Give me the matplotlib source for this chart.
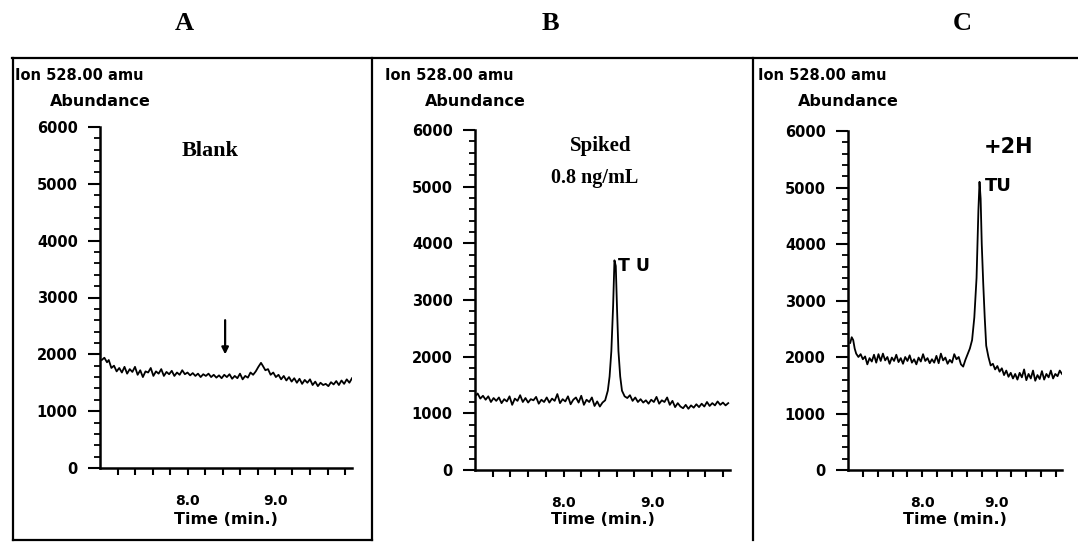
import matplotlib
matplotlib.use("Agg")
import matplotlib.pyplot as plt
from matplotlib.lines import Line2D

# ---- data ----
panel_letters = ["A", "B", "C"]
ion_label = "Ion 528.00 amu"
y_label = "Abundance"
x_label = "Time (min.)"
y_ticks = [0, 1000, 2000, 3000, 4000, 5000, 6000]
x_major = [8.0, 9.0]
x_major_labels = ["8.0", "9.0"]
x_minor = [7.2, 7.4, 7.6, 7.8, 8.0, 8.2, 8.4, 8.6, 8.8, 9.0, 9.2, 9.4, 9.6, 9.8]

# Panel A: blank
time_a = [7.02, 7.05, 7.08, 7.10, 7.13, 7.16, 7.19, 7.22, 7.25, 7.28, 7.31, 7.34,
          7.37, 7.40, 7.43, 7.46, 7.49, 7.52, 7.55, 7.58, 7.61, 7.64, 7.67, 7.70,
          7.73, 7.76, 7.79, 7.82, 7.85, 7.88, 7.91, 7.94, 7.97, 8.00, 8.03, 8.06,
          8.09, 8.12, 8.15, 8.18, 8.21, 8.24, 8.27, 8.30, 8.33, 8.36, 8.39, 8.42,
          8.45, 8.48, 8.51, 8.54, 8.57, 8.60, 8.63, 8.66, 8.69, 8.72, 8.75, 8.78,
          8.81, 8.84, 8.86, 8.89, 8.92, 8.95, 8.98, 9.01, 9.04, 9.07, 9.10, 9.13,
          9.16, 9.19, 9.22, 9.25, 9.28, 9.31, 9.34, 9.37, 9.40, 9.43, 9.46, 9.49,
          9.52, 9.55, 9.58, 9.61, 9.64, 9.67, 9.70, 9.73, 9.76, 9.79, 9.82, 9.85, 9.88]
abund_a = [1900, 1940, 1860, 1900, 1760, 1800, 1700, 1760, 1680, 1780, 1660, 1740,
           1690, 1780, 1640, 1720, 1600, 1700, 1680, 1760, 1620, 1700, 1660, 1740,
           1620, 1690, 1650, 1710, 1620, 1680, 1640, 1720, 1650, 1680, 1630, 1670,
           1620, 1660, 1600, 1650, 1620, 1660, 1600, 1640, 1590, 1630, 1580, 1640,
           1600, 1650, 1570, 1620, 1580, 1660, 1560, 1620, 1590, 1680, 1640, 1700,
           1780, 1850, 1800, 1720, 1740, 1640, 1680, 1600, 1640, 1560, 1620, 1540,
           1600, 1520, 1580, 1500, 1570, 1480, 1550, 1500, 1560, 1460, 1520, 1440,
           1500, 1460, 1480, 1440, 1510, 1470, 1530, 1460, 1540, 1480, 1560, 1500, 1580]

# Panel B: spiked 0.8 ng/mL
time_b = [7.00, 7.03, 7.06, 7.09, 7.12, 7.15, 7.18, 7.21, 7.24, 7.27, 7.30, 7.33,
          7.36, 7.39, 7.42, 7.45, 7.48, 7.51, 7.54, 7.57, 7.60, 7.63, 7.66, 7.69,
          7.72, 7.75, 7.78, 7.81, 7.84, 7.87, 7.90, 7.93, 7.96, 7.99, 8.02, 8.05,
          8.08, 8.11, 8.14, 8.17, 8.20, 8.23, 8.26, 8.29, 8.32, 8.35, 8.38, 8.41,
          8.44, 8.47, 8.50, 8.52, 8.54, 8.56, 8.575, 8.59, 8.605, 8.62, 8.64, 8.66,
          8.69, 8.72, 8.75, 8.78, 8.81, 8.84, 8.87, 8.90, 8.93, 8.96, 8.99, 9.02,
          9.05, 9.08, 9.11, 9.14, 9.17, 9.20, 9.23, 9.26, 9.29, 9.32, 9.35, 9.38,
          9.41, 9.44, 9.47, 9.50, 9.53, 9.56, 9.59, 9.62, 9.65, 9.68, 9.71, 9.74,
          9.77, 9.80, 9.83, 9.86]
abund_b = [1300, 1350, 1260, 1310, 1240, 1300, 1200, 1270, 1220, 1280, 1180, 1250,
           1210, 1300, 1150, 1260, 1220, 1320, 1200, 1270, 1190, 1250, 1230, 1290,
           1170, 1240, 1200, 1280, 1190, 1260, 1220, 1340, 1180, 1250, 1210, 1300,
           1160, 1240, 1280, 1190, 1310, 1150, 1240, 1200, 1280, 1130, 1210, 1120,
           1190, 1230, 1400, 1650, 2100, 2900, 3700, 3600, 2800, 2100, 1650, 1400,
           1300, 1270, 1320, 1220, 1280, 1200, 1250, 1190, 1230, 1170, 1240, 1200,
           1290, 1170, 1230, 1200, 1280, 1150, 1220, 1110, 1180, 1120, 1090, 1150,
           1080, 1140, 1100, 1160, 1110, 1170, 1120, 1200, 1130, 1180, 1140, 1210,
           1150, 1190, 1140, 1180]

# Panel C: +2H
time_c = [7.03, 7.05, 7.07, 7.09, 7.11, 7.14, 7.17, 7.20, 7.23, 7.26, 7.29, 7.32,
          7.35, 7.38, 7.41, 7.44, 7.47, 7.50, 7.53, 7.56, 7.59, 7.62, 7.65, 7.68,
          7.71, 7.74, 7.77, 7.80, 7.83, 7.86, 7.89, 7.92, 7.95, 7.98, 8.01, 8.04,
          8.07, 8.10, 8.13, 8.16, 8.19, 8.22, 8.25, 8.28, 8.31, 8.34, 8.37, 8.40,
          8.43, 8.46, 8.49, 8.52, 8.55, 8.58, 8.61, 8.64, 8.67, 8.70, 8.73, 8.755,
          8.77, 8.785, 8.80, 8.82, 8.84, 8.86, 8.89, 8.92, 8.95, 8.98, 9.01, 9.04,
          9.07, 9.10, 9.13, 9.16, 9.19, 9.22, 9.25, 9.28, 9.31, 9.34, 9.37, 9.40,
          9.43, 9.46, 9.49, 9.52, 9.55, 9.58, 9.61, 9.64, 9.67, 9.70, 9.73, 9.76,
          9.79, 9.82, 9.85, 9.88]
abund_c = [2250, 2350, 2300, 2150, 2060, 2000, 2050, 1960, 2010, 1870, 1980, 1920,
           2040, 1900, 2050, 1930, 2060, 1940, 2000, 1880, 1990, 1930, 2040, 1910,
           1980, 1880, 2000, 1930, 2030, 1900, 1960, 1870, 1990, 1920, 2050, 1930,
           1980, 1890, 1960, 1900, 2020, 1890, 2060, 1940, 1990, 1880, 1950, 1900,
           2050, 1960, 2000, 1870, 1830, 1950, 2050, 2150, 2300, 2700, 3400, 4600,
           5100, 4800, 4000, 3300, 2700, 2200, 2000, 1850, 1880, 1780, 1840, 1740,
           1800, 1680, 1760, 1650, 1720, 1620, 1700, 1600, 1720, 1640, 1780, 1590,
           1700, 1620, 1760, 1580, 1680, 1610, 1750, 1600, 1700, 1640, 1760, 1620,
           1700, 1660, 1760, 1700]

W, H = 1078, 542
SANS = "DejaVu Sans"
SERIF = "Liberation Serif"


def box(left, top, right, bottom):
    """pixel box (y from top) -> figure fraction rect"""
    return [left / W, 1 - bottom / H, (right - left) / W, (bottom - top) / H]


def ftext(x, y, s, **kw):
    fig.text(x / W, 1 - y / H, s, **kw)


fig = plt.figure(figsize=(W / 100, H / 100), dpi=100)

# panel frames from the scanned figure
frame_kw = dict(color="black", lw=1.6, transform=fig.transFigure)
for (x0, y0, x1, y1) in [(12, 58, 1078, 58), (13, 58, 13, 540), (372, 58, 372, 540),
                         (753, 58, 753, 540), (13, 540, 372, 540)]:
    fig.add_artist(Line2D([x0 / W, x1 / W], [1 - y0 / H, 1 - y1 / H], **frame_kw))

panels = [
    dict(t=time_a, y=abund_a, rect=(100, 127, 352, 468), ion_x=15, head_x=184),
    dict(t=time_b, y=abund_b, rect=(475, 130, 730, 470), ion_x=385, head_x=550),
    dict(t=time_c, y=abund_c, rect=(848, 131, 1062, 470), ion_x=758, head_x=962),
]

axes = []
for letter, p in zip(panel_letters, panels):
    l, t, r, b = p["rect"]
    ax = fig.add_axes(box(l, t, r, b))
    ax.plot(p["t"], p["y"], color="black", lw=1.3)
    ax.set_xlim(7.0, 9.88)
    ax.set_ylim(0, 6000)
    for side in ("top", "right"):
        ax.spines[side].set_visible(False)
    for side in ("left", "bottom"):
        ax.spines[side].set_linewidth(1.8)
    ax.set_yticks(y_ticks)
    ax.set_yticks(range(0, 6001, 200), minor=True)
    ax.set_xticks(x_major)
    ax.set_xticklabels(x_major_labels)
    ax.set_xticks(x_minor, minor=True)
    ax.tick_params(axis="y", which="major", length=9, width=1.5, pad=7,
                   labelsize=10.5)
    ax.tick_params(axis="y", which="minor", length=4, width=1.3)
    ax.tick_params(axis="x", which="both", length=5, width=1.5, pad=14,
                   labelsize=10)
    for lab in ax.get_xticklabels() + ax.get_yticklabels():
        lab.set_fontweight("bold")
        lab.set_family(SANS)

    ftext(p["ion_x"], 75, ion_label, fontsize=10.5, fontweight="bold",
          family=SANS, va="center", ha="left")
    ftext(l, 101, y_label, fontsize=11.5, fontweight="bold", family=SANS,
          va="center", ha="center")
    ftext((l + r) / 2, 519, x_label, fontsize=11.5, fontweight="bold",
          family=SANS, va="center", ha="center")
    ftext(p["head_x"], 23, letter, fontsize=19, fontweight="bold",
          family=SERIF, va="center", ha="center")
    axes.append(ax)

ax_a, ax_b, ax_c = axes

# panel annotations
ftext(210, 151, "Blank", fontsize=16, fontweight="bold", family=SERIF,
      va="center", ha="center")
ftext(601, 146, "Spiked", fontsize=15, fontweight="bold", family=SERIF,
      va="center", ha="center")
ftext(595, 178, "0.8 ng/mL", fontsize=14.5, fontweight="bold", family=SERIF,
      va="center", ha="center")

ax_a.annotate("", xy=(8.43, 1950), xytext=(8.43, 2650),
              arrowprops=dict(arrowstyle="-|>", color="black", lw=1.6,
                              mutation_scale=10))
ax_b.text(8.62, 3600, "T U", fontsize=12.5, fontweight="bold", family=SANS,
          va="center", ha="left")
ax_c.text(8.84, 5030, "TU", fontsize=13, fontweight="bold", family=SANS,
          va="center", ha="left")
ax_c.text(8.83, 5720, "+2H", fontsize=15, fontweight="bold", family=SANS,
          va="center", ha="left")

fig.savefig("out.png", dpi=100)
